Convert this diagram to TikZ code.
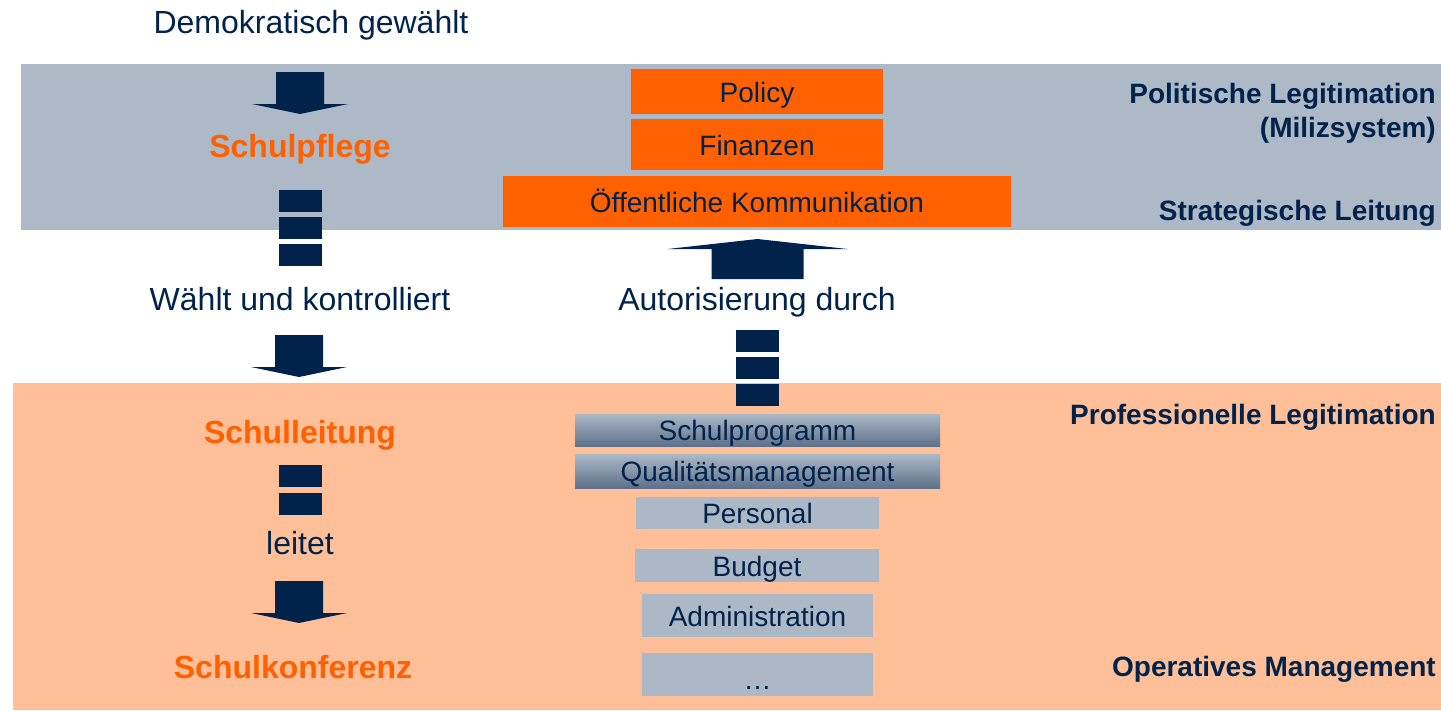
\documentclass[tikz,border=0pt]{standalone}
\usepackage{fontspec}
\setmainfont{Liberation Sans}
\usetikzlibrary{positioning}

\definecolor{navy}{RGB}{0,34,75}
\definecolor{signal}{RGB}{255,96,0}
\definecolor{bandgray}{RGB}{173,185,199}
\definecolor{peach}{RGB}{255,192,153}
\definecolor{boxgray}{RGB}{172,184,198}
\definecolor{boxdark}{RGB}{94,113,139}

\begin{document}
\begin{tikzpicture}[x=1pt,y=-1pt]

\tikzset{big/.style = {font=\fontsize{32}{38}\selectfont, text=navy, inner sep=0pt, anchor=base}}
\tikzset{body/.style = {big, font=\fontsize{32}{38}\selectfont\bfseries, text=signal}}
\tikzset{side/.style = {font=\fontsize{28}{34}\selectfont\bfseries, text=navy, inner sep=0pt, anchor=base east}}
\tikzset{task/.style = {font=\fontsize{28}{34}\selectfont, inner sep=0pt, text height=26pt, text depth=5pt}}
\tikzset{redbox/.style = {task, fill=signal, text=navy}}
\tikzset{graybox/.style = {task, fill=boxgray, text=navy}}
\tikzset{shadebox/.style = {task, top color=boxgray, middle color=boxgray, bottom color=boxdark, text=navy}}
\tikzset{dashbox/.style = {fill=navy, minimum width=43pt, minimum height=22pt, inner sep=0pt}}
\tikzset{darrow/.pic = {\fill[navy] (-24,0) -- (24,0) -- (24,32) -- (48,32) -- (0,42) -- (-48,32) -- (-24,32) -- cycle;}}
\tikzset{uarrow/.pic = {\fill[navy] (-46,0) -- (46,0) -- (46,-30) -- (90,-30) -- (0,-40) -- (-90,-30) -- (-46,-30) -- cycle;}}

\useasboundingbox (0,0) rectangle (1441,710);

% bands
\fill[bandgray] (21,64) rectangle (1441,230);
\fill[peach] (13,383) rectangle (1441,710);

% left column
\node[big] (wahl) at (311,33) {Demokratisch gewählt};
\node[body] (pflege) at (300,157) {Schulpflege};
\node[big] (kontr) at (300,310) {Wählt und kontrolliert};
\node[body] (sl) at (300,443) {Schulleitung};
\node[big] (leitet) at (300,554) {leitet};
\node[body] (konf) at (293,678) {Schulkonferenz};

%arrows
\pic at (300,72) {darrow};
\pic at (299,335) {darrow};
\pic at (299,581) {darrow};
\pic at (757.5,279) {uarrow};

\foreach \y [count=\i] in {200.5,227.5,255}
  \node[dashbox] (p\i) at (300,\y) {};
\foreach \y [count=\i] in {476,503.5}
  \node[dashbox] (s\i) at (300,\y) {};
\foreach \y [count=\i] in {340.5,368,395}
  \node[dashbox] (a\i) at (757.5,\y) {};

% strategic tasks
\node[redbox, minimum width=252pt, minimum height=45pt] (policy) at (757,91.5) {Policy};
\node[redbox, minimum width=252pt, minimum height=51pt] (fin) at (757,144.5) {Finanzen};
\node[redbox, minimum width=508pt, minimum height=51pt] (komm) at (757,201.5) {Öffentliche Kommunikation};

\node[big] (auto) at (757,310) {Autorisierung durch};

% operative tasks
\node[shadebox, minimum width=365pt, minimum height=32pt] (prog) at (757.5,430) {Schulprogramm};
\node[shadebox, minimum width=365pt, minimum height=34pt] (qm) at (757.5,471) {Qualitätsmanagement};
\node[graybox, minimum width=243pt, minimum height=32pt] (pers) at (757.5,513) {Personal};
\node[graybox, minimum width=244pt, minimum height=33pt] (budget) at (757,565.5) {Budget};
\node[graybox, minimum width=231pt, minimum height=43pt] (admin) at (757.5,615.5) {Administration};
\node[graybox, minimum width=231pt, minimum height=43pt, text depth=0pt, text height=14pt] (etc) at (757.5,674.5) {\raisebox{-8pt}{\dots}};

% right labels
\node[side] (polit) at (1436,103) {Politische Legitimation};
\node[side] (miliz) at (1436,137) {(Milizsystem)};
\node[side] (strat) at (1436,220) {Strategische Leitung};
\node[side] (prof) at (1436,424) {Professionelle Legitimation};
\node[side] (oper) at (1436,676) {Operatives Management};

\end{tikzpicture}
\end{document}
